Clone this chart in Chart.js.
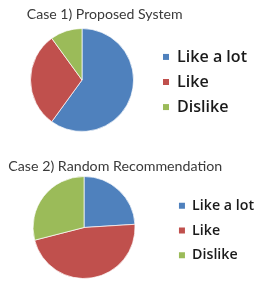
<!DOCTYPE html>
<html><head><meta charset="utf-8">
<script src="https://cdn.jsdelivr.net/npm/chart.js@4/dist/chart.umd.min.js"></script>
<style>
html,body{margin:0;padding:0;background:#fff;overflow:hidden;width:255px;height:281px;position:relative;}
#c1{position:absolute;left:0;top:0;}
#c2{position:absolute;left:-1px;top:140px;}
</style></head><body>
<canvas id="c1" width="257" height="140" style="width:257px;height:140px"></canvas>
<canvas id="c2" width="265" height="141" style="width:265px;height:141px"></canvas>
<script>
// ---- data ----
const categories = ['Like a lot', 'Like', 'Dislike'];
const case1Title = 'Case 1) Proposed System';
const case1Values = [60, 30, 10];
const case2Title = 'Case 2) Random Recommendation';
const case2Values = [24, 47, 29];
// ---- style ----
const sliceColors = ['#4F81BD', '#C0504D', '#9BBB59'];
const titleFamily = 'Lato';
const legendFamily = '"Open Sans"';
const legendWeight = '600';

function fitSize(text, family, weight, target) {
  const ctx = document.createElement('canvas').getContext('2d');
  ctx.font = weight + ' 100px ' + family;
  return 100 * target / ctx.measureText(text).width;
}

const boxShift = {
  id: 'boxShift',
  afterLayout(chart, args, opts) {
    const t = chart.titleBlock;
    if (t && opts && opts.titleLeft != null) {
      const w = t.right - t.left;
      t.left = opts.titleLeft; t.right = opts.titleLeft + w;
    }
    const l = chart.legend;
    if (l && opts && opts.legendDy) {
      l.top += opts.legendDy; l.bottom += opts.legendDy;
    }
  }
};

function makeChart(id, titleText, values, cfg) {
  const tSize = fitSize(titleText, titleFamily, 'normal', cfg.titleWidth);
  const lSize = fitSize(categories[0], legendFamily, legendWeight, cfg.legendTextWidth);
  const tTop = cfg.titleMid - tSize / 2;
  const tBottom = cfg.areaTop - tSize - tTop;
  const boxW = 6;
  const legendLeft = cfg.legendTextX - cfg.legendPad - boxW - lSize / 2;
  const padLeft = Math.max(0, 2 * cfg.pieCx - legendLeft);
  return new Chart(document.getElementById(id), {
    type: 'pie',
    data: {
      labels: categories,
      datasets: [{
        data: values,
        backgroundColor: sliceColors,
        borderColor: 'rgba(255,255,255,0.7)',
        borderWidth: 1,
        hoverOffset: 0
      }]
    },
    options: {
      responsive: false,
      devicePixelRatio: 1,
      animation: false,
      events: [],
      layout: { padding: { left: padLeft, right: 0, top: 0, bottom: cfg.padBottom } },
      plugins: {
        boxShift: { titleLeft: cfg.titleX, legendDy: cfg.legendDy },
        title: {
          display: true,
          text: titleText,
          align: 'start',
          color: '#3a3a3a',
          font: { family: titleFamily, size: tSize, weight: 'normal', lineHeight: 1 },
          padding: { top: tTop, bottom: tBottom }
        },
        legend: {
          display: true,
          position: 'right',
          align: 'center',
          fullSize: false,
          labels: {
            boxWidth: boxW,
            boxHeight: boxW,
            padding: cfg.legendPad,
            color: '#1a1a1a',
            font: { family: legendFamily, size: lSize, weight: legendWeight },
            generateLabels(chart) {
              const items = Chart.overrides.doughnut.plugins.legend.labels.generateLabels(chart);
              items.forEach(it => { it.lineWidth = 0; it.strokeStyle = it.fillStyle; });
              return items;
            }
          }
        },
        tooltip: { enabled: false }
      }
    },
    plugins: [boxShift]
  });
}

makeChart('c1', case1Title, case1Values, {
  titleWidth: 156, titleX: 26.7, titleMid: 14.5, areaTop: 28, padBottom: 8,
  legendTextWidth: 70, legendTextX: 177, legendPad: 9, legendDy: 2, pieCx: 82
});
makeChart('c2', case2Title, case2Values, {
  titleWidth: 214, titleX: 9.3, titleMid: 26.3, areaTop: 36, padBottom: 2,
  legendTextWidth: 62, legendTextX: 193, legendPad: 10.4, legendDy: 3, pieCx: 85
});
</script>
</body></html>
